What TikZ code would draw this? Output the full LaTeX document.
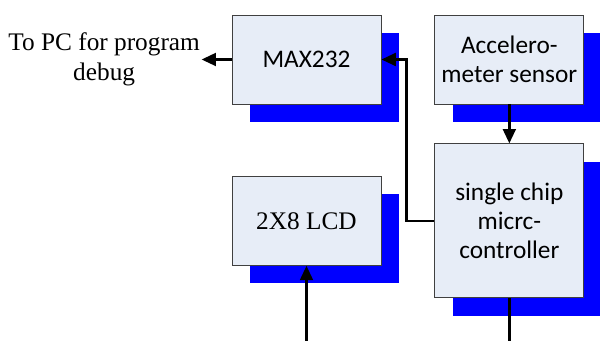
\documentclass[tikz,border=0pt]{standalone}
\usepackage{fontspec}
\setmainfont{Liberation Serif}
\newfontfamily\boxfont{Carlito}
\definecolor{BoxFill}{HTML}{E7EDF7}
\definecolor{BoxLine}{HTML}{404040}
\usetikzlibrary{arrows.meta,positioning,shadows}

\begin{document}
\begin{tikzpicture}[>={Triangle[length=3.6mm,width=3.2mm]}]
\tikzstyle{blk}=[draw=BoxLine,line width=0.6pt,fill=BoxFill,align=center,minimum width=3.725cm,minimum height=2.225cm,
  font=\boxfont\fontsize{18}{20.8}\selectfont,drop shadow={shadow xshift=0.45cm,shadow yshift=-0.45cm,fill=blue,opacity=1}]
\tikzstyle{conn}=[line width=1.8pt]
\clip (0,0) rectangle (15,8.525);
\node[blk] (max) at (7.6625,7.0375) {MAX232};
\node[blk,right=1.325cm of max] (acc) {Accelero-\\meter sensor};
\node[blk,minimum height=3.85cm,below=0.975cm of acc] (mcu) {single chip\\micrc-\\controller};
\node[blk,left=1.325cm of mcu,font=\fontsize{18}{20.8}\selectfont] (lcd) {2X8 LCD};
\node[left=0.75cm of max,align=center,inner sep=1pt,font=\fontsize{18}{21}\selectfont] (pc) {To PC for program\\debug};
\coordinate (lcdin) at (lcd.south |- 0,0);
\coordinate (mcuout) at (mcu.south |- 0,0);
\draw[conn,->] (max) -- (pc);
\draw[conn,->] (acc) -- (mcu);
\draw[conn,->] (mcu.west) -- ++(-0.7,0) |- (max.east);
\draw[conn,->] (lcdin) -- (lcd);
\draw[conn] (mcu) -- (mcuout);
\end{tikzpicture}
\end{document}
